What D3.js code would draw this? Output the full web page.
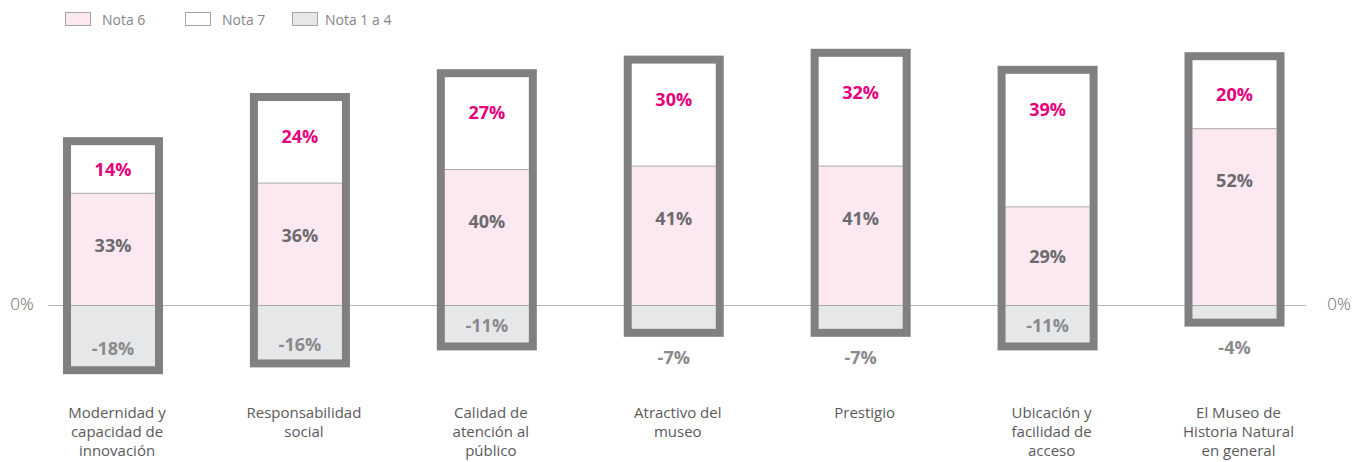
<!DOCTYPE html>
<html>
<head>
<meta charset="utf-8">
<script src="https://cdn.jsdelivr.net/npm/d3@7"></script>
<style>
  body { margin: 0; background: #fff; }
  svg { display: block; font-family: "Open Sans", "Noto Sans", sans-serif; }
</style>
</head>
<body>
<div id="chart"></div>
<script>
var categories = [
  "Modernidad y\ncapacidad de\ninnovación",
  "Responsabilidad\nsocial",
  "Calidad de\natención al\npúblico",
  "Atractivo del\nmuseo",
  "Prestigio",
  "Ubicación y\nfacilidad de\nacceso",
  "El Museo de\nHistoria Natural\nen general"
];
var nota6 = [33, 36, 40, 41, 41, 29, 52];
var nota7 = [14, 24, 27, 30, 32, 39, 20];
var nota1a4 = [-18, -16, -11, -7, -7, -11, -4];
var legendLabels = ["Nota 6", "Nota 7", "Nota 1 a 4"];

var width = 1357;
var height = 462;
var barWidth = 84;
var frameW = 8;

var pink = "#fce8f1";
var grey = "#e6e7e9";
var frameColor = "#808083";
var magenta = "#e4007c";

var svg = d3.select("#chart")
  .append("svg")
  .attr("width", width)
  .attr("height", height);

var x = d3.scalePoint()
  .domain(categories)
  .range([113, 1234.5]);

var y = d3.scaleLinear()
  .domain([-20, 80])
  .range([373, 33]);

var rows = categories.map(function(c, i) {
  return { cat: c, n6: nota6[i], n7: nota7[i], neg: nota1a4[i] };
});

// legend
var legendX = [65, 185, 292];
var legendFill = [pink, "#fff", grey];
var legend = svg.selectAll(".legend")
  .data(legendLabels)
  .enter()
  .append("g")
  .attr("class", "legend")
  .attr("transform", function(d, i) { return "translate(" + legendX[i] + ",12)"; });

legend.append("rect")
  .attr("x", 0.5)
  .attr("y", 0.5)
  .attr("width", 25)
  .attr("height", 13)
  .style("fill", function(d, i) { return legendFill[i]; })
  .style("stroke", "#a5a5a8");

legend.append("text")
  .attr("x", function(d, i) { return i == 2 ? 33 : 37; })
  .attr("y", 7)
  .attr("dominant-baseline", "central")
  .style("font-size", "14px")
  .style("fill", "#858588")
  .text(function(d) { return d; });

// zero line
svg.append("line")
  .attr("x1", 48)
  .attr("x2", 1306)
  .attr("y1", y(0) + 0.5)
  .attr("y2", y(0) + 0.5)
  .style("stroke", "#b2b2b4")
  .style("stroke-width", 1);

svg.selectAll(".zero")
  .data([22, 1339])
  .enter()
  .append("text")
  .attr("class", "zero")
  .attr("x", function(d) { return d; })
  .attr("y", y(0) - 2)
  .attr("text-anchor", "middle")
  .attr("dominant-baseline", "central")
  .style("font-size", "17px")
  .style("font-weight", 300)
  .style("fill", "#68686b")
  .text("0%");

var bars = svg.selectAll(".bar")
  .data(rows)
  .enter()
  .append("g")
  .attr("class", "bar")
  .attr("transform", function(d) { return "translate(" + (x(d.cat) - barWidth / 2) + ",0)"; });

// negative segment
bars.append("rect")
  .attr("y", y(0))
  .attr("width", barWidth)
  .attr("height", function(d) { return y(d.neg) - y(0); })
  .style("fill", grey);

// nota 6
bars.append("rect")
  .attr("y", function(d) { return y(d.n6); })
  .attr("width", barWidth)
  .attr("height", function(d) { return y(0) - y(d.n6); })
  .style("fill", pink);

// nota 7
bars.append("rect")
  .attr("y", function(d) { return y(d.n6 + d.n7); })
  .attr("width", barWidth)
  .attr("height", function(d) { return y(d.n6) - y(d.n6 + d.n7); })
  .style("fill", "#fff");

// separators
bars.append("line")
  .attr("x1", 0)
  .attr("x2", barWidth)
  .attr("y1", function(d) { return y(d.n6) + 0.5; })
  .attr("y2", function(d) { return y(d.n6) + 0.5; })
  .style("stroke", "#a9a9ac");

bars.append("line")
  .attr("x1", 0)
  .attr("x2", barWidth)
  .attr("y1", y(0) + 0.5)
  .attr("y2", y(0) + 0.5)
  .style("stroke", "#a9a9ac");

// frame
bars.append("rect")
  .attr("x", -frameW / 2)
  .attr("y", function(d) { return y(d.n6 + d.n7) - frameW / 2; })
  .attr("width", barWidth + frameW)
  .attr("height", function(d) { return y(d.neg) - y(d.n6 + d.n7) + frameW; })
  .style("fill", "none")
  .style("stroke", frameColor)
  .style("stroke-width", frameW);

// value labels
bars.append("text")
  .attr("x", barWidth / 2)
  .attr("y", function(d) {
    var top = y(d.n6 + d.n7);
    var h = y(d.n6) - top;
    return top + Math.min(h / 2, 35);
  })
  .attr("text-anchor", "middle")
  .attr("dominant-baseline", "central")
  .style("font-size", "18px")
  .style("font-weight", "bold")
  .style("fill", magenta)
  .text(function(d) { return d.n7 + "%"; });

bars.append("text")
  .attr("x", barWidth / 2)
  .attr("y", function(d) {
    var top = y(d.n6);
    var h = y(0) - top;
    return top + Math.min(h / 2, 52);
  })
  .attr("text-anchor", "middle")
  .attr("dominant-baseline", "central")
  .style("font-size", "18px")
  .style("font-weight", "bold")
  .style("fill", "#6b6b6e")
  .text(function(d) { return d.n6 + "%"; });

bars.append("text")
  .attr("x", barWidth / 2)
  .attr("y", function(d) {
    var h = y(d.neg) - y(0);
    if (d.neg > -9) return y(d.neg) + frameW + 20;
    return y(0) + h / 2 + (h > 40 ? 12 : 1);
  })
  .attr("text-anchor", "middle")
  .attr("dominant-baseline", "central")
  .style("font-size", "18px")
  .style("font-weight", "bold")
  .style("fill", "#8a8a8d")
  .text(function(d) { return d.neg + "%"; });

// category labels
var catText = svg.selectAll(".cat")
  .data(categories)
  .enter()
  .append("text")
  .attr("class", "cat")
  .attr("text-anchor", "middle")
  .attr("transform", function(d) { return "translate(" + (x(d) + 4) + ",418)"; })
  .style("font-size", "15px")
  .style("fill", "#5a5a5d");

catText.selectAll("tspan")
  .data(function(d) { return d.split("\n"); })
  .enter()
  .append("tspan")
  .attr("x", 0)
  .attr("dy", function(d, i) { return i == 0 ? 0 : 19; })
  .text(function(d) { return d; });
</script>
</body>
</html>
